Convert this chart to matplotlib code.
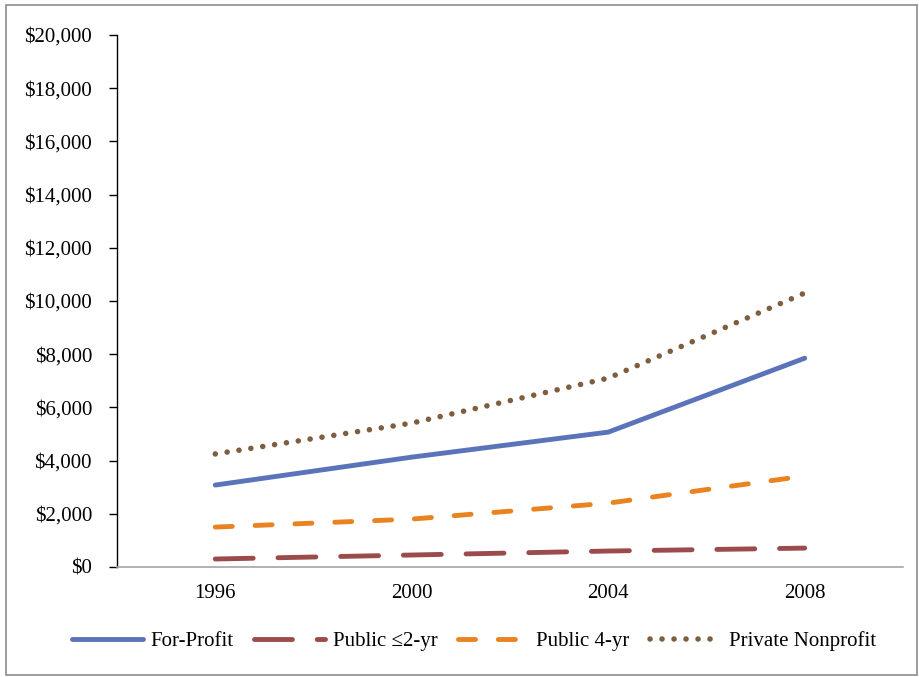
import matplotlib
matplotlib.use("Agg")
import matplotlib.pyplot as plt
from matplotlib.patches import Rectangle
from matplotlib.ticker import FuncFormatter, MultipleLocator

plt.rcParams['font.family'] = ['Liberation Serif', 'DejaVu Serif']
plt.rcParams['font.size'] = 15

years = ['1996', '2000', '2004', '2008']
for_profit = [3080, 4130, 5070, 7850]
public_2yr = [300, 450, 600, 710]
public_4yr = [1500, 1800, 2400, 3420]
private_np = [4250, 5410, 7100, 10300]

series = [
    ('For-Profit', for_profit, '#5B73B9', '-', 3.5),
    ('Public \u22642-yr', public_2yr, '#9C4B4C', (0, (7.8, 5.1)), 3.5),
    ('Public 4-yr', public_4yr, '#E8831F', (0, (3.5, 4.7)), 3.5),
    ('Private Nonprofit', private_np, '#7E5E3E', (0, (0.01, 2.15)), 4.0),
]

fig = plt.figure(figsize=(9.2, 6.77), dpi=100)
ax = fig.add_axes([0.1272, 0.1625, 0.8543, 0.7858])

x = range(len(years))
for name, vals, color, ls, lw in series:
    ax.plot(x, vals, color=color, lw=lw, linestyle=ls, label=name,
            dash_capstyle='round', solid_capstyle='round',
            solid_joinstyle='round', dash_joinstyle='round', zorder=3)

ax.set_xlim(-0.5, len(years) - 0.5)
ax.set_ylim(0, 20000)
ax.set_xticks(list(x))
ax.set_xticklabels(years)
ax.yaxis.set_major_locator(MultipleLocator(2000))
ax.yaxis.set_major_formatter(FuncFormatter(lambda v, p: f'${v:,.0f}'))

for s in ['top', 'right']:
    ax.spines[s].set_visible(False)
ax.spines['left'].set_color('black')
ax.spines['left'].set_linewidth(1.0)
ax.spines['bottom'].set_color('#A6A6A6')
ax.spines['bottom'].set_linewidth(1.2)
ax.tick_params(axis='y', length=6, width=1.0, direction='out', pad=12,
               colors='black')
ax.tick_params(axis='x', length=0, pad=12)

fig.legend(loc='center', bbox_to_anchor=(474 / 920, 1 - 641 / 677),
           ncol=4, frameon=False, handlelength=3.4, handletextpad=0.35,
           columnspacing=1.0, borderpad=0)

# outer chart frame
fig.patches.append(Rectangle((6 / 920, 2 / 677), 911 / 920, 670 / 677,
                             transform=fig.transFigure, fill=False,
                             edgecolor='#8C8C8C', linewidth=1.2))

fig.savefig('out.png', dpi=100)
